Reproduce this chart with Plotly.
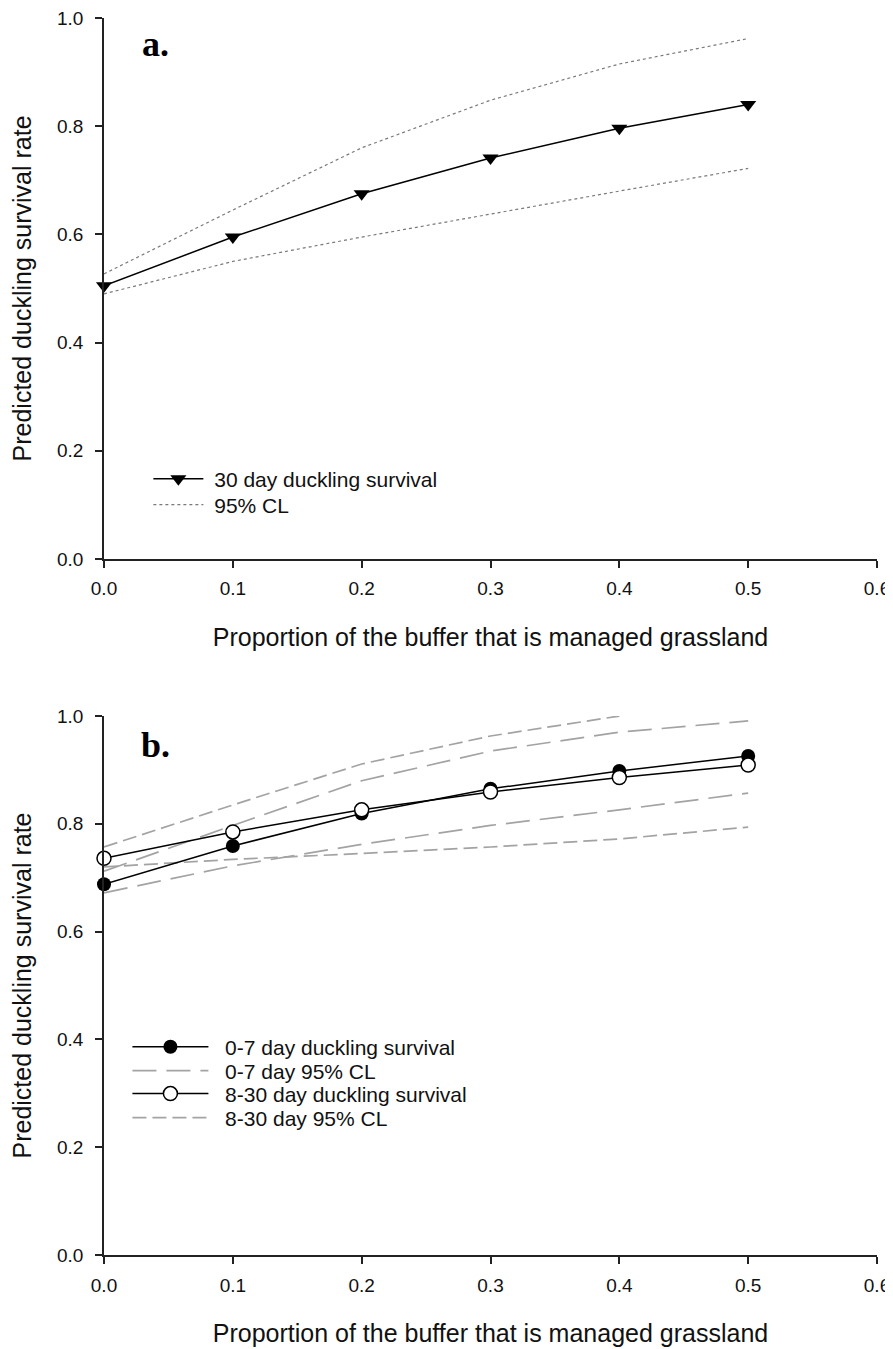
import plotly.graph_objects as go

# ---- data ----
x_vals = [0.0, 0.1, 0.2, 0.3, 0.4, 0.5]

a_surv = [0.505, 0.595, 0.675, 0.741, 0.796, 0.840]
a_cl_up = [0.527, 0.645, 0.760, 0.848, 0.915, 0.962]
a_cl_lo = [0.490, 0.550, 0.595, 0.638, 0.680, 0.722]

b_x_short_up = [0.0, 0.1, 0.2, 0.3, 0.4]
b07_surv = [0.688, 0.759, 0.819, 0.865, 0.898, 0.926]
b830_surv = [0.736, 0.785, 0.826, 0.859, 0.886, 0.909]
b07_cl_up = [0.712, 0.797, 0.880, 0.935, 0.970, 0.991]
b07_cl_lo = [0.672, 0.722, 0.762, 0.797, 0.826, 0.857]
b830_cl_up = [0.757, 0.835, 0.911, 0.963, 1.000]
b830_cl_lo = [0.720, 0.734, 0.745, 0.757, 0.772, 0.794]

x_ticks = [0.0, 0.1, 0.2, 0.3, 0.4, 0.5, 0.6]
y_ticks = [0.0, 0.2, 0.4, 0.6, 0.8, 1.0]
x_title = "Proportion of the buffer that is managed grassland"
y_title = "Predicted duckling survival rate"

FONT = "Liberation Sans, Arial, sans-serif"
SERIF = "Liberation Serif, Times New Roman, serif"
NB = "\u00a0"

fig = go.Figure()

# panel a
fig.add_trace(go.Scatter(x=x_vals, y=a_surv, mode="lines+markers", name=NB + "30 day duckling survival",
                         line=dict(color="black", width=1.5),
                         marker=dict(symbol="triangle-down", size=14, color="black"),
                         cliponaxis=False, xaxis="x", yaxis="y", legend="legend"))
fig.add_trace(go.Scatter(x=x_vals, y=a_cl_up, mode="lines", name=NB + "95% CL",
                         line=dict(color="#7a7a7a", width=1.2, dash="dot"),
                         xaxis="x", yaxis="y", legend="legend3"))
fig.add_trace(go.Scatter(x=x_vals, y=a_cl_lo, mode="lines", name="95% CL", showlegend=False,
                         line=dict(color="#7a7a7a", width=1.2, dash="dot"),
                         xaxis="x", yaxis="y"))

# panel b
long_dash = "24px,10px"
short_dash = "14px,6px"
GRAY = "#a3a3a3"
fig.add_trace(go.Scatter(x=x_vals, y=b07_cl_up, mode="lines", name=NB * 2 + "0-7 day 95% CL",
                         line=dict(color=GRAY, width=1.7, dash=long_dash),
                         xaxis="x2", yaxis="y2", legend="legend4"))
fig.add_trace(go.Scatter(x=x_vals, y=b07_cl_lo, mode="lines", name="0-7 day 95% CL", showlegend=False,
                         line=dict(color=GRAY, width=1.7, dash=long_dash),
                         xaxis="x2", yaxis="y2"))
fig.add_trace(go.Scatter(x=b_x_short_up, y=b830_cl_up, mode="lines", name=NB * 2 + "8-30 day 95% CL",
                         line=dict(color=GRAY, width=1.7, dash=short_dash),
                         xaxis="x2", yaxis="y2", legend="legend6"))
fig.add_trace(go.Scatter(x=x_vals, y=b830_cl_lo, mode="lines", name="8-30 day 95% CL", showlegend=False,
                         line=dict(color=GRAY, width=1.7, dash=short_dash),
                         xaxis="x2", yaxis="y2"))
fig.add_trace(go.Scatter(x=x_vals, y=b07_surv, mode="lines+markers", name=NB * 2 + "0-7 day duckling survival",
                         line=dict(color="black", width=1.5),
                         marker=dict(symbol="circle", size=14, color="black"),
                         cliponaxis=False, xaxis="x2", yaxis="y2", legend="legend2"))
fig.add_trace(go.Scatter(x=x_vals, y=b830_surv, mode="lines+markers", name=NB * 2 + "8-30 day duckling survival",
                         line=dict(color="black", width=1.5),
                         marker=dict(symbol="circle", size=14, color="white", line=dict(color="black", width=1.5)),
                         cliponaxis=False, xaxis="x2", yaxis="y2", legend="legend5"))

axis_common = dict(showgrid=False, zeroline=False, showline=True, linecolor="#222222", linewidth=1.5,
                   ticks="outside", ticklen=7, tickwidth=1.5, tickcolor="#222222", automargin=False,
                   ticklabeloverflow="allow",
                   tickfont=dict(family=FONT, size=19, color="#111111"))

xa = dict(axis_common, range=[0, 0.6], tickvals=x_ticks, tickformat=".1f", ticklabelstandoff=5,
          title=dict(text=x_title, font=dict(family=FONT, size=25, color="#111111"), standoff=30))
ya = dict(axis_common, range=[0, 1.0], tickvals=y_ticks, tickformat=".1f", ticklabelstandoff=8,
          title=dict(text=y_title, font=dict(family=FONT, size=25, color="#111111"), standoff=18))


def leg(xp, yp, iw):
    return dict(x=xp, y=yp, xref="paper", yref="paper", xanchor="left", yanchor="middle",
                bgcolor="rgba(0,0,0,0)", font=dict(family=FONT, size=21, color="#111111"),
                itemwidth=iw, tracegroupgap=0)


fig.update_layout(
    width=885, height=1341,
    paper_bgcolor="white", plot_bgcolor="white",
    margin=dict(l=96, r=16, t=10, b=94),
    xaxis=dict(xa, domain=[0, 1], anchor="y"),
    yaxis=dict(ya, domain=[0.5627, 1], anchor="x"),
    xaxis2=dict(xa, domain=[0, 1], anchor="y2"),
    yaxis2=dict(ya, domain=[0, 0.4357], anchor="x2"),
    legend=leg(0.0574, 0.6273, 50),
    legend3=leg(0.0574, 0.6063, 50),
    legend2=leg(0.0303, 0.1681, 76),
    legend4=leg(0.0303, 0.1487, 76),
    legend5=leg(0.0303, 0.1302, 76),
    legend6=leg(0.0303, 0.1108, 76),
    annotations=[
        dict(text="<b>a.</b>", x=0.0466, y=0.9790, xref="paper", yref="paper", xanchor="left", yanchor="middle",
             showarrow=False, font=dict(family=SERIF, size=36, color="black")),
        dict(text="<b>b.</b>", x=0.0453, y=0.4120, xref="paper", yref="paper", xanchor="left", yanchor="middle",
             showarrow=False, font=dict(family=SERIF, size=36, color="black")),
    ],
)

fig.write_html("out.html")
